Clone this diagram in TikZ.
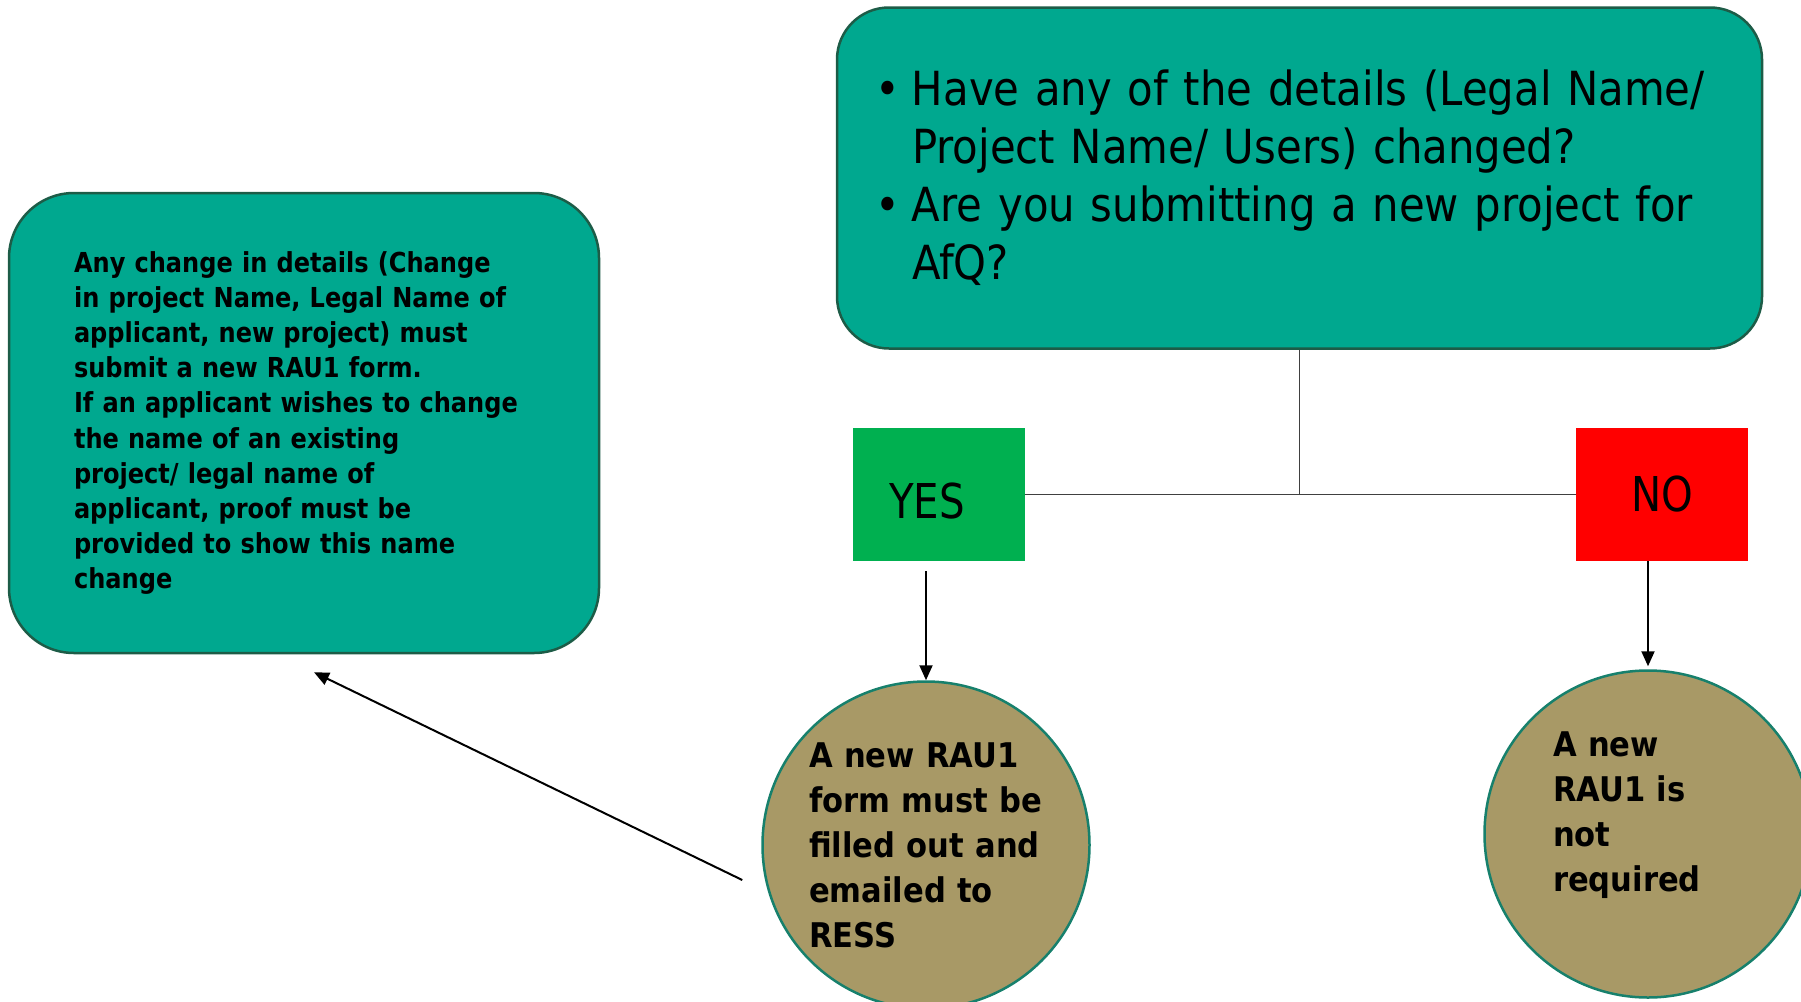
\documentclass[tikz,border=0pt]{standalone}
\usepackage{fontspec}
\setmainfont{DejaVu Sans}
\newfontfamily\condfont{DejaVu Sans}[FakeStretch=0.9]
\newfontfamily\tightfont{DejaVu Sans}[FakeStretch=0.875]
\newfontfamily\narrowfont{DejaVu Sans}[FakeStretch=0.84]
\newfontfamily\questfont{DejaVu Sans}[FakeStretch=0.89]
\usepackage{xcolor}
\usepackage{tikz}
\usetikzlibrary{arrows.meta, positioning}
\definecolor{tealfill}{HTML}{00A88F}
\definecolor{tealedge}{HTML}{1D5C47}
\definecolor{khaki}{HTML}{A89966}
\definecolor{ringedge}{HTML}{17806C}
\definecolor{yesgreen}{HTML}{00B050}
\definecolor{nored}{HTML}{FF0000}

\begin{document}
\begin{tikzpicture}[
    x=1pt, y=-1pt,
    panel/.style={rectangle, draw=tealedge, line width=2.5pt, fill=tealfill,
                  align=left, inner sep=0pt},
    answer/.style={rectangle, inner sep=0pt, minimum width=172pt, minimum height=133pt,
                   font=\narrowfont\fontsize{48}{58}\selectfont},
    outcome/.style={circle, draw=ringedge, line width=2.5pt, fill=khaki, inner sep=0pt,
                    minimum size=327pt, align=left,
                    font=\condfont\bfseries\fontsize{34}{45}\selectfont},
    arrow/.style={-{Triangle[length=15pt, width=13pt]}, line width=2pt, draw=black},
    link/.style={line width=1.5pt, draw=black!75}
  ]
    \useasboundingbox (0,0) rectangle (1801,1001);

    \node[panel, rounded corners=52pt, minimum width=925pt, minimum height=341pt,
          text width=849pt, font=\questfont\fontsize{47}{58}\selectfont] (question) at (1299.5,178)
      {\makebox[37pt][l]{\textbullet}Have any of the details (Legal Name/\\
       \hspace*{37pt}Project Name/ Users) changed?\\
       \makebox[37pt][l]{\textbullet}Are you submitting a new project for\\
       \hspace*{37pt}AfQ?};
    \node[panel, rounded corners=65pt, minimum width=590pt, minimum height=460pt,
          text width=460pt, font=\tightfont\bfseries\fontsize{27.5}{35.2}\selectfont] (info) at (304,423)
      {Any change in details (Change\\
       in project Name, Legal Name of\\
       applicant, new project) must\\
       submit a new RAU1 form.\\
       If an applicant wishes to change\\
       the name of an existing\\
       project/ legal name of\\
       applicant, proof must be\\
       provided to show this name\\
       change};

    \node[answer, fill=yesgreen, text height=49pt] (yes) at (938.5,494.5) {YES\hspace*{23pt}};
    \node[answer, fill=nored] (no) at (1662,494.5) {NO};

    \node[outcome, text width=234pt] (newform) at (926,845)
      {A new RAU1\\form must be\\filled out and\\emailed to\\RESS};
    \node[outcome, text width=190pt] (noform) at (1648,834)
      {A new\\RAU1 is\\not\\required\\\mbox{}};

    \draw[link] (yes.east) -- (no.west);
    \draw[link] (question.south) -- (question.south |- yes.east);
    \draw[arrow] (newform.north |- yes.south) ++(0,10) -- (newform.north);
    \draw[arrow] (noform.north |- no.south) -- ([yshift=3pt]noform.north);
    \draw[arrow] ([xshift=-19pt, yshift=-35pt]newform.west) -- ([xshift=10pt, yshift=-18pt]info.south);
\end{tikzpicture}
\end{document}
